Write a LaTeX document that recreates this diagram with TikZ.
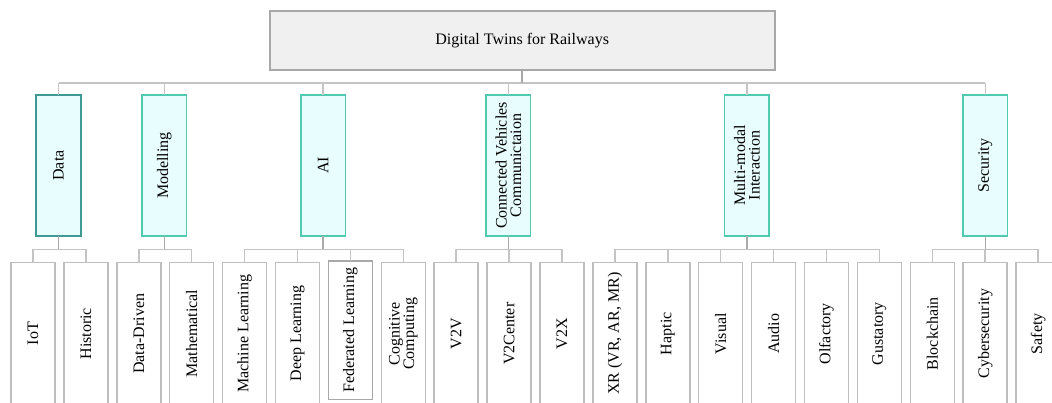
\documentclass[tikz,border=0pt]{standalone}
\usepackage{fontspec}
\setmainfont{Liberation Serif}
\definecolor{catfill}{HTML}{E8FDFD}
\definecolor{catline}{HTML}{4FC9B0}
\definecolor{datline}{HTML}{3E9A92}
\definecolor{rootfill}{HTML}{F0F0F0}
\definecolor{rootline}{HTML}{A8A8A8}
\definecolor{leafline}{HTML}{BEBEBE}
\definecolor{connline}{HTML}{C4C4C4}
\definecolor{dropline}{HTML}{A9A9A9}
\tikzset{
  every node/.style={font=\fontsize{16}{14.5}\selectfont, inner sep=0pt, outer sep=0pt, align=center},
  rootbox/.style={draw=rootline, fill=rootfill, line width=1.6pt, minimum width=505pt, minimum height=59pt},
  catbox/.style={draw=catline, fill=catfill, line width=1.6pt, rotate=90, minimum width=141pt, minimum height=44.5pt},
  leafbox/.style={draw=leafline, fill=white, line width=1.5pt, rotate=90, minimum width=142.5pt, minimum height=44pt},
  conn/.style={draw=connline, line width=1.5pt},
  drop/.style={draw=dropline, line width=1.5pt},
}
\begin{document}
\begin{tikzpicture}[x=1pt,y=1pt]
\useasboundingbox (0,0) rectangle (1052,402);
% root
\node[rootbox] (root) at (522.2,361.7) {Digital Twins for Railways};
% categories
\node[catbox, draw=datline] (data) at (58.5,236.5) {Data};
\node[catbox] (model) at (164.3,236.5) {Modelling};
\node[catbox] (ai) at (323.2,236.5) {AI};
\node[catbox] (conn) at (508.3,236.5) {Connected Vehicles\\Communictaion};
\node[catbox] (multi) at (746.9,236.5) {Multi-modal\\Interaction};
\node[catbox] (sec) at (985.4,236.5) {Security};
% leaves
\def\lx#1{\fpeval{33+52.9*#1}}
\node[leafbox] (iot) at (\lx{0},68.25) {IoT};
\node[leafbox] (hist) at (\lx{1},68.25) {Historic};
\node[leafbox] (dd) at (\lx{2},68.25) {Data-Driven};
\node[leafbox] (math) at (\lx{3},68.25) {Mathematical};
\node[leafbox] (ml) at (\lx{4},68.25) {Machine Learning};
\node[leafbox] (dl) at (\lx{5},68.25) {Deep Learning};
\node[leafbox, draw=rootline, minimum width=138.3pt] (fl) at (\lx{6},71.85) {Federated Learning};
\node[leafbox] (cc) at (\lx{7},68.25) {Cognitive\\Computing};
\node[leafbox] (v2v) at (\lx{8},68.25) {V2V};
\node[leafbox] (v2c) at (\lx{9},68.25) {V2Center};
\node[leafbox] (v2x) at (\lx{10},68.25) {V2X};
\node[leafbox] (xr) at (\lx{11},68.25) {XR (VR, AR, MR)};
\node[leafbox] (hap) at (\lx{12},68.25) {Haptic};
\node[leafbox] (vis) at (\lx{13},68.25) {Visual};
\node[leafbox] (aud) at (\lx{14},68.25) {Audio};
\node[leafbox] (olf) at (\lx{15},68.25) {Olfactory};
\node[leafbox] (gus) at (\lx{16},68.25) {Gustatory};
\node[leafbox] (blk) at (\lx{17},68.25) {Blockchain};
\node[leafbox] (cyb) at (\lx{18},68.25) {Cybersecurity};
\node[leafbox] (saf) at (\lx{19},68.25) {Safety};
% bus coordinates
\coordinate (mbus) at (0,319);
\coordinate (sbus) at (0,152.7);
% main bus
\draw[conn] (data.east |- mbus) -- (sec.east |- mbus);
\foreach \c in {data,model,ai,conn,multi,sec}
  \draw[conn] (\c.east) -- (\c.east |- mbus);
\draw[drop] (root.south) -- (root.south |- mbus);
% sub buses
\foreach \p/\a/\b in {data/iot/hist, model/dd/math, ai/ml/cc, conn/v2v/v2x, multi/xr/gus, sec/blk/saf}{
  \draw[conn] (\a.east |- sbus) -- (\b.east |- sbus);
  \draw[drop] (\p.west) -- (\p.west |- sbus);
}
\foreach \l in {iot,hist,dd,math,ml,dl,fl,cc,v2v,v2c,v2x,xr,hap,vis,aud,olf,gus,blk,cyb,saf}
  \draw[conn] (\l.east) -- (\l.east |- sbus);
\end{tikzpicture}
\end{document}
